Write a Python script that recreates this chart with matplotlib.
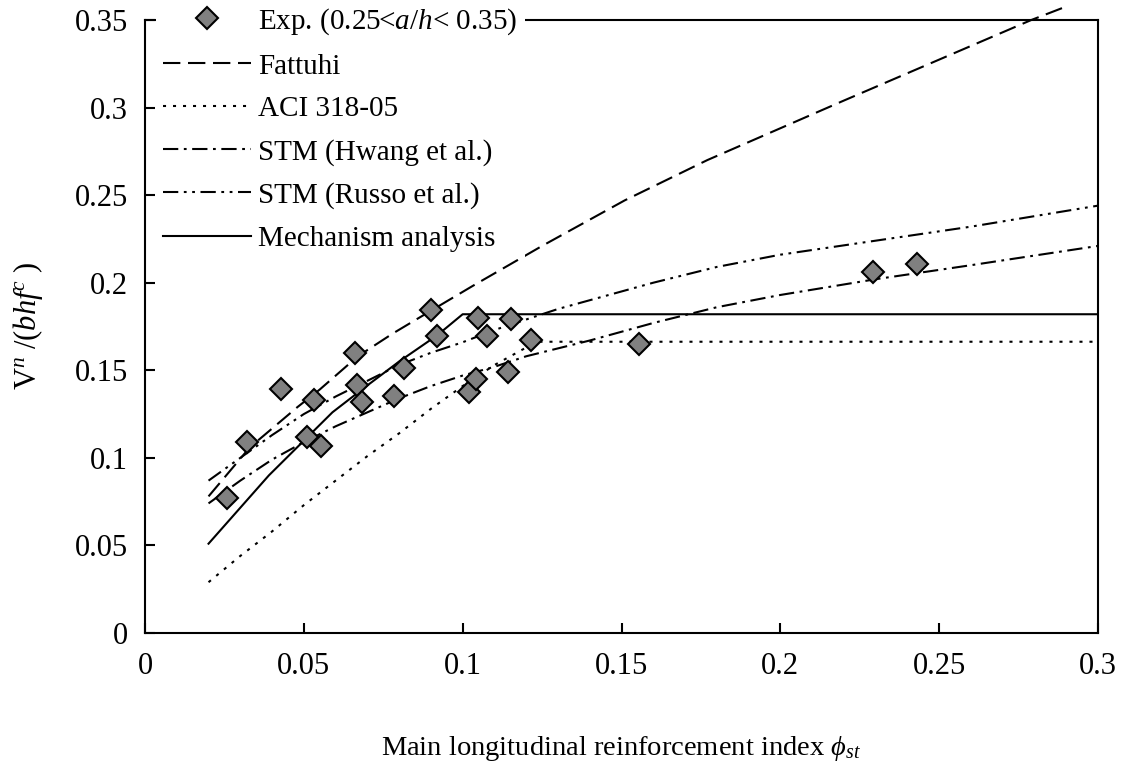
import matplotlib
matplotlib.use("Agg")
import matplotlib.pyplot as plt

plt.rcParams['font.family'] = ['Liberation Serif', 'DejaVu Serif']
plt.rcParams['mathtext.fontset'] = 'custom'
plt.rcParams['mathtext.rm'] = 'Liberation Serif'
plt.rcParams['mathtext.it'] = 'Liberation Serif:italic'
plt.rcParams['mathtext.fallback'] = 'cm'
plt.rcParams['lines.scale_dashes'] = False

# Experimental specimens (0.25 < a/h < 0.35)
exp_x = [0.0257, 0.0320, 0.0427, 0.0509, 0.0532, 0.0553, 0.0661, 0.0666, 0.0682,
         0.0784, 0.0815, 0.0899, 0.0918, 0.1021, 0.1042, 0.1049, 0.1076, 0.1142,
         0.1151, 0.1214, 0.1556, 0.2293, 0.2431]
exp_y = [0.0769, 0.1092, 0.1391, 0.1117, 0.1330, 0.1068, 0.1597, 0.1416, 0.1321,
         0.1353, 0.1515, 0.1844, 0.1698, 0.1374, 0.1449, 0.1801, 0.1698, 0.1489,
         0.1791, 0.1673, 0.1650, 0.2063, 0.2107]

# Fattuhi prediction
fat_x = [0.020, 0.033, 0.048, 0.055, 0.067, 0.078, 0.090, 0.103, 0.125, 0.138,
         0.151, 0.177, 0.220, 0.279, 0.289]
fat_y = [0.078, 0.106, 0.129, 0.139, 0.158, 0.171, 0.184, 0.198, 0.221, 0.234,
         0.247, 0.270, 0.304, 0.350, 0.357]

# ACI 318-05
aci_x = [0.020, 0.030, 0.040, 0.050, 0.060, 0.070, 0.080, 0.090, 0.100, 0.110,
         0.120, 0.124, 0.300]
aci_y = [0.029, 0.044, 0.058, 0.073, 0.087, 0.101, 0.114, 0.128, 0.141, 0.153,
         0.163, 0.1663, 0.1663]

# Strut-and-tie model (Hwang et al.)
hw_x = [0.020, 0.030, 0.040, 0.050, 0.060, 0.070, 0.080, 0.090, 0.100, 0.110,
        0.120, 0.140, 0.160, 0.180, 0.200, 0.230, 0.260, 0.300]
hw_y = [0.074, 0.087, 0.099, 0.109, 0.118, 0.126, 0.134, 0.141, 0.147, 0.152,
        0.158, 0.167, 0.177, 0.186, 0.193, 0.202, 0.210, 0.221]

# Strut-and-tie model (Russo et al.)
ru_x = [0.020, 0.030, 0.040, 0.050, 0.060, 0.070, 0.080, 0.090, 0.100, 0.110,
        0.120, 0.130, 0.140, 0.160, 0.180, 0.200, 0.230, 0.260, 0.300]
ru_y = [0.087, 0.100, 0.113, 0.125, 0.135, 0.144, 0.153, 0.160, 0.166, 0.173,
        0.179, 0.185, 0.190, 0.200, 0.209, 0.216, 0.224, 0.232, 0.244]

# Mechanism analysis
me_x = [0.020, 0.039, 0.049, 0.059, 0.069, 0.080, 0.092, 0.100, 0.300]
me_y = [0.051, 0.090, 0.108, 0.126, 0.140, 0.155, 0.170, 0.182, 0.182]

x_ticks = [0, 0.05, 0.1, 0.15, 0.2, 0.25, 0.3]
x_tick_labels = ['0', '0.05', '0.1', '0.15', '0.2', '0.25', '0.3']
y_ticks = [0, 0.05, 0.1, 0.15, 0.2, 0.25, 0.3, 0.35]
y_tick_labels = ['0', '0.05', '0.1', '0.15', '0.2', '0.25', '0.3', '0.35']

fig = plt.figure(figsize=(11.22, 7.69), dpi=100)
ax = fig.add_axes([145 / 1122, 1 - 633 / 769, (1098 - 145) / 1122, (633 - 20) / 769])

lw = 1.5
ax.plot(exp_x, exp_y, linestyle='none', marker='D', markersize=11,
        markerfacecolor='#808080', markeredgecolor='black', markeredgewidth=1.5,
        zorder=4, label='Exp. (0.25<$a/h$< 0.35)')
ax.plot(fat_x, fat_y, color='black', lw=lw, linestyle=(0, (12.5, 5.5)),
        clip_on=False, label='Fattuhi')
ax.plot(aci_x, aci_y, color='black', lw=lw, linestyle=(0, (2.2, 5.0)),
        label='ACI 318-05')
ax.plot(hw_x, hw_y, color='black', lw=lw, linestyle=(0, (11, 4, 2, 4)),
        label='STM (Hwang et al.)')
ax.plot(ru_x, ru_y, color='black', lw=lw, linestyle=(0, (11, 4, 2, 4, 2, 4)),
        label='STM (Russo et al.)')
ax.plot(me_x, me_y, color='black', lw=lw, linestyle='-',
        label='Mechanism analysis')

ax.set_xlim(0, 0.3)
ax.set_ylim(0, 0.35)
ax.set_xticks(x_ticks)
ax.set_xticklabels(x_tick_labels)
ax.set_yticks(y_ticks)
ax.set_yticklabels(y_tick_labels)
ax.tick_params(direction='in', length=7, width=1.5, labelsize=22, pad=12,
               colors='black')
ax.tick_params(axis='x', pad=14)
for sp in ax.spines.values():
    sp.set_linewidth(1.5)

ax.set_xlabel(r'Main longitudinal reinforcement index $\phi$$_{\mathit{st}}$',
              fontsize=20.5, labelpad=38)
ax.set_ylabel(r'V$^{\mathit{n}}$ /($\mathit{bhf}$$^{\mathit{c}}$ )',
              fontsize=22, labelpad=22)

leg = ax.legend(loc='upper left', bbox_to_anchor=(156 / 1122, 1 + 1 / 769),
                bbox_transform=fig.transFigure, fontsize=21, frameon=True,
                facecolor='white', edgecolor='none', framealpha=1,
                fancybox=False, handlelength=3.0, handletextpad=0.25,
                labelspacing=0.56, borderpad=0.25, borderaxespad=0, numpoints=1)
leg.set_zorder(5)

fig.savefig('out.png', dpi=100)
